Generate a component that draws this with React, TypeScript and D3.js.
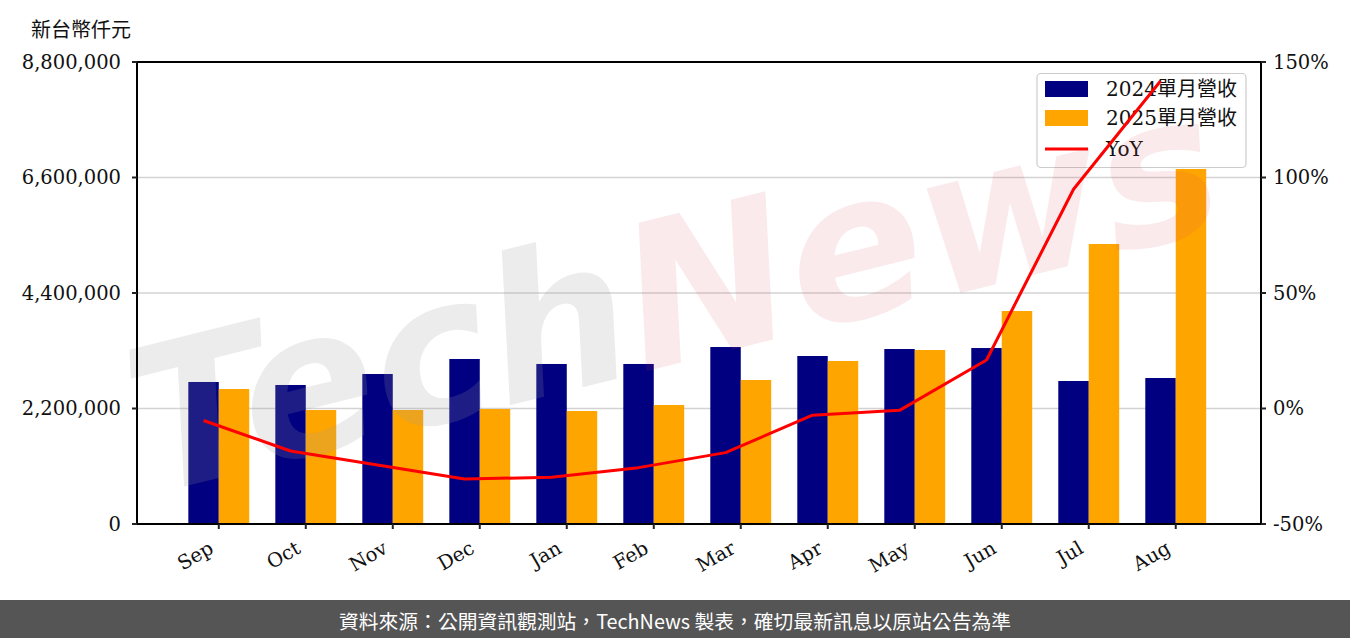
import React from "react";
import * as d3 from "d3";

const months = ["Sep", "Oct", "Nov", "Dec", "Jan", "Feb", "Mar", "Apr", "May", "Jun", "Jul", "Aug"];
const revenue2024 = [2705000, 2648000, 2857000, 3143000, 3048000, 3048000, 3371000, 3200000, 3333000, 3352000, 2724000, 2781000];
const revenue2025 = [2571000, 2171000, 2171000, 2190000, 2152000, 2267000, 2743000, 3105000, 3314000, 4057000, 5333000, 6762000];
const yoyPct = [-5.2, -18.4, -24.5, -30.5, -29.8, -25.6, -19.1, -2.9, -0.8, 21.0, 94.9, 141.8];
const leftTicks = [0, 2200000, 4400000, 6600000, 8800000];
const rightTicks = [-50, 0, 50, 100, 150];
const seriesNames = ["2024單月營收", "2025單月營收", "YoY"];
const unitLabel = "新台幣仟元";
const footerText = "資料來源：公開資訊觀測站，TechNews 製表，確切最新訊息以原站公告為準";

const W = 1350;
const H = 638;
const L = 137;
const R = 1261;
const T = 62;
const B = 524;

const NAVY = "#000080";
const ORANGE = "#FFA500";
const RED = "#FF0000";
const SERIF = "'DejaVu Serif', 'Noto Sans CJK TC', serif";
const CJK = "'Noto Sans CJK TC', 'Noto Sans', sans-serif";

export default function App() {
  const x = d3.scaleLinear().domain([-0.94, 11.98]).range([L, R]);
  const yL = d3.scaleLinear().domain([0, 8800000]).range([B, T]);
  const yR = d3.scaleLinear().domain([-50, 150]).range([B, T]);
  const bw = 0.35;
  const fmt = d3.format(",");
  const line = d3
    .line<number>()
    .x((_, i) => x(i - bw / 2))
    .y((d) => yR(d));

  const fs = 19.5;

  return (
    <div style={{ position: "fixed", left: 0, top: 0, width: W, height: H, background: "#fff" }}>
      <svg width={W} height={H} style={{ display: "block" }}>
        <rect x={0} y={0} width={W} height={H} fill="#fff" />
        {/* unit label */}
        <text x={31} y={28} fontFamily={CJK} fontSize={20} fill="#111" dominantBaseline="central">
          {unitLabel}
        </text>

        {/* grid */}
        {leftTicks.slice(1).map((t) => (
          <line key={"g" + t} x1={L} x2={R} y1={yL(t)} y2={yL(t)} stroke="#d3d3d3" strokeWidth={1.5} />
        ))}

        {/* bars */}
        {revenue2024.map((v, i) => (
          <rect key={"a" + i} x={x(i - bw)} width={x(bw) - x(0)} y={yL(v)} height={yL(0) - yL(v)} fill={NAVY} />
        ))}
        {revenue2025.map((v, i) => (
          <rect key={"b" + i} x={x(i)} width={x(bw) - x(0)} y={yL(v)} height={yL(0) - yL(v)} fill={ORANGE} />
        ))}

        {/* legend */}
        <g>
          <rect x={1037} y={73.5} width={209} height={94} rx={4} fill="#fff" fillOpacity={0.8} stroke="#cccccc" strokeWidth={1.2} />
          <rect x={1045} y={81} width={43} height={16} fill={NAVY} />
          <rect x={1045} y={110} width={43} height={16} fill={ORANGE} />
          <line x1={1045} x2={1088} y1={149} y2={149} stroke={RED} strokeWidth={3} />
          {seriesNames.map((n, i) => (
            <text key={n} x={1106} y={[89, 118, 149][i]} fontFamily={SERIF} fontSize={20} fill="#111" dominantBaseline="central">
              {n}
            </text>
          ))}
        </g>

        {/* watermark */}
        <g transform="translate(150,495) rotate(-14)" fontFamily="'DejaVu Sans', sans-serif" fontWeight="bold" fontStyle="oblique" fontSize={200}>
          <text x={0} y={0}>
            <tspan fill="#999999" fillOpacity={0.19}>Tech</tspan>
            <tspan fill="#d23c50" fillOpacity={0.11}>News</tspan>
          </text>
        </g>

        {/* YoY line */}
        <path d={line(yoyPct) || ""} fill="none" stroke={RED} strokeWidth={3} strokeLinejoin="round" />

        {/* spines */}
        <rect x={L} y={T} width={R - L} height={B - T} fill="none" stroke="#000" strokeWidth={2} />

        {/* left axis */}
        {leftTicks.map((t) => (
          <g key={"l" + t}>
            <line x1={L - 5} x2={L} y1={yL(t)} y2={yL(t)} stroke="#222" strokeWidth={2} />
            <text x={121} y={yL(t)} textAnchor="end" dominantBaseline="central" fontFamily={SERIF} fontSize={fs} fill="#111">
              {fmt(t)}
            </text>
          </g>
        ))}

        {/* right axis */}
        {rightTicks.map((t) => (
          <g key={"r" + t}>
            <line x1={R} x2={R + 5} y1={yR(t)} y2={yR(t)} stroke="#222" strokeWidth={2} />
            <text x={1273} y={yR(t)} dominantBaseline="central" fontFamily={SERIF} fontSize={fs} fill="#111">
              {t + "%"}
            </text>
          </g>
        ))}

        {/* bottom axis */}
        {months.map((m, i) => (
          <g key={m}>
            <line x1={x(i)} x2={x(i)} y1={B} y2={B + 5} stroke="#222" strokeWidth={2} />
            <text
              transform={`translate(${x(i) - 4},${552}) rotate(-30)`}
              textAnchor="end"
              fontFamily={SERIF}
              fontSize={fs}
              fill="#111"
            >
              {m}
            </text>
          </g>
        ))}

        {/* footer */}
        <rect x={0} y={600} width={W} height={38} fill="#555555" />
        <text x={W / 2} y={620} textAnchor="middle" dominantBaseline="central" fontFamily={CJK} fontSize={19.8} fill="#fff">
          {footerText}
        </text>
      </svg>
    </div>
  );
}
